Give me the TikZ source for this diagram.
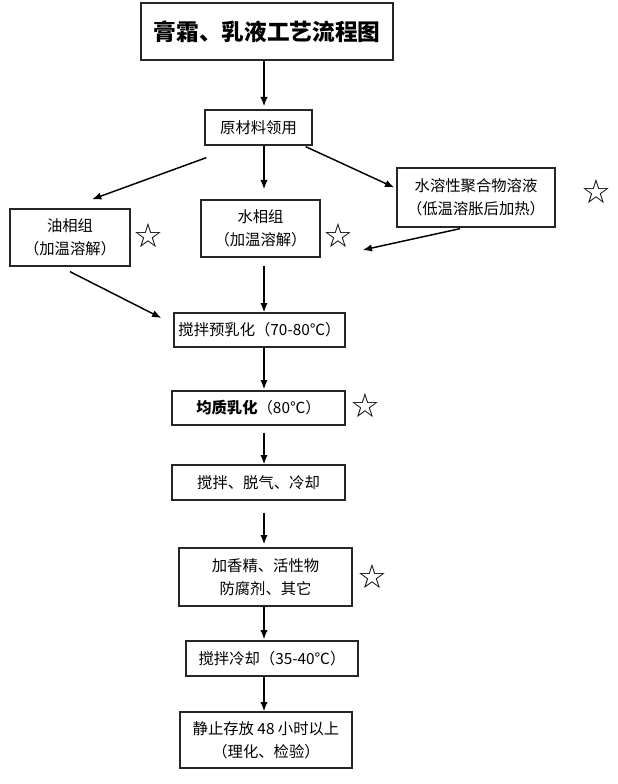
\documentclass[tikz,border=0pt]{standalone}
\usepackage{fontspec}
\setmainfont{Noto Sans CJK SC}
\newfontfamily\starfont{DejaVu Sans}
\usetikzlibrary{arrows.meta,calc}
\tikzset{
  stepbox/.style={draw=black!85,line width=1pt,align=center,inner sep=0pt,
    font=\fontsize{11.5}{17}\selectfont},
  size/.style 2 args={minimum width=#1*0.75pt,minimum height=#2*0.75pt},
  arr/.style={-{Latex[length=7pt,width=5.5pt]},line width=1.1pt},
  hint/.style={inner sep=0pt,font=\starfont\fontsize{25}{25}\selectfont}
}
\begin{document}
\begin{tikzpicture}[x=0.75pt,y=-0.75pt]
    \useasboundingbox (0,0) rectangle (617,784);
    \coordinate (axis) at (264,0);
    % boxes, top to bottom
    \node[stepbox,line width=1.6pt,size={252}{57},font=\fontsize{17}{20}\selectfont\bfseries] (title) at (267,31.5) {膏霜、乳液工艺流程图};
    \node[stepbox,size={107}{35}] (raw) at (258.5,127.5) {原材料领用};
    \node[stepbox,size={120}{57}] (oil) at (70,237.5) {油相组\\（加温溶解）};
    \node[stepbox,size={119}{57}] (water) at (260.5,228.5) {水相组\\（加温溶解）};
    \node[stepbox,size={158}{59}] (poly) at (476,197.5) {水溶性聚合物溶液\\（低温溶胀后加热）};
    \node[stepbox,size={171}{34}] (pre) at (259.5,330) {搅拌预乳化（70-80℃）};
    \node[stepbox,size={173}{34}] (homo) at (258.5,408) {\textbf{均质乳化}（80℃）};
    \node[stepbox,size={173}{35}] (degas) at (258.5,482.5) {搅拌、脱气、冷却};
    \node[stepbox,size={173}{58}] (add) at (265.5,577) {加香精、活性物\\防腐剂、其它};
    \node[stepbox,size={172}{35}] (cool) at (272,658.5) {搅拌冷却（35-40℃）};
    \node[stepbox,size={172}{56}] (rest) at (266,740) {静止存放 48 小时以上\\（理化、检验）};
    % key steps
    \node[hint] (s1) at (148,236) {☆};
    \node[hint] (s2) at (338,236) {☆};
    \node[hint] (s3) at (596,192) {☆};
    \node[hint] (s4) at (365,406) {☆};
    \node[hint] (s5) at (372,577) {☆};
    % arrows
    \draw[arr] (title.south -| axis) -- ($(raw.north -| axis)+(0,-3)$);
    \draw[arr] ($(raw.south west)+(2,12)$) -- ($(oil.north)+(22,-9)$);
    \draw[arr] (raw.south -| axis) -- ($(water.north -| axis)+(0,-10)$);
    \draw[arr] ($(raw.south east)+(-7,1)$) -- ($(poly.west)+(-2,-10)$);
    \draw[arr] ($(poly.south)+(-16,1)$) -- ($(water.east)+(42,21.5)$);
    \draw[arr] ($(oil.south)+(0,5)$) -- ($(pre.west)+(-12,-12)$);
    \draw[arr] ($(water.south -| axis)+(0,8)$) -- (pre.north -| axis);
    \draw[arr] (pre.south -| axis) -- ($(homo.north -| axis)+(0,-1)$);
    \draw[arr] ($(homo.south -| axis)+(0,7)$) -- (degas.north -| axis);
    \draw[arr] ($(degas.south -| axis)+(0,12)$) -- ($(add.north -| axis)+(0,-3)$);
    \draw[arr] (add.south -| axis) -- ($(cool.north -| axis)+(0,-1)$);
    \draw[arr] (cool.south -| axis) -- (rest.north -| axis);
\end{tikzpicture}
\end{document}
